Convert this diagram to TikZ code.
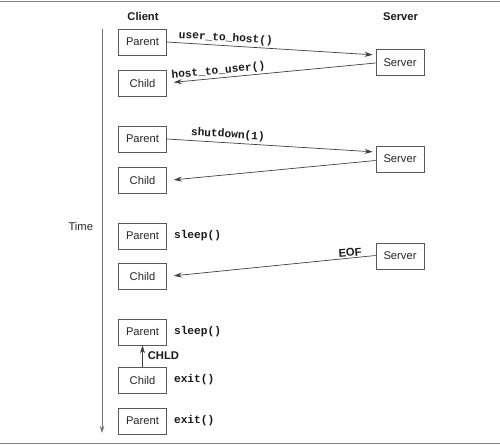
\documentclass[tikz,border=0pt]{standalone}
\usepackage{fontspec}
\setmainfont{Liberation Sans}
\setmonofont{Liberation Mono}
\usetikzlibrary{arrows.meta}
\begin{document}
\begin{tikzpicture}[x=1pt,y=-1pt,
  txt/.style={font=\fontsize{11.2}{13}\selectfont, text=black!85},
  box/.style={txt, draw=black!65, line width=0.7pt, minimum width=48pt, minimum height=26pt, inner sep=0pt},
  code/.style={font=\fontsize{11.2}{13}\selectfont\ttfamily\bfseries, text=black!90, inner sep=1pt},
  hdr/.style={font=\fontsize{11.2}{13}\selectfont\bfseries, text=black!90, inner sep=1pt},
  msg/.style={draw=black!75, line width=0.7pt, -{Stealth[length=8pt,width=5pt]}},
  axis/.style={draw=black!55, line width=0.8pt, -{Stealth[length=7pt,width=4.5pt]}},
  frame/.style={draw=black!50, line width=1.6pt}]
\useasboundingbox (0,0) rectangle (500,446);
% frame lines
\coordinate (fl1) at (0,1.5); \coordinate (fr1) at (500,1.5);
\coordinate (fl2) at (0,443.5); \coordinate (fr2) at (500,443.5);
\draw[frame] (fl1) -- (fr1);
\draw[frame] (fl2) -- (fr2);
% headers
\node[hdr] (hc) at (143,17) {Client};
\node[hdr] (hs) at (400.5,17) {Server};
% time axis
\coordinate (t0) at (102,29);
\coordinate (t1) at (102,433);
\draw[axis] (t0) -- (t1);
\node[txt] (time) at (80.8,226) {Time};
% row 1
\node[box] (p1) at (142.5,42) {Parent};
\node[box] (c1) at (142.5,83) {Child};
\node[box] (s1) at (400,62.5) {Server};
\draw[msg, shorten >=3pt] (p1.east) -- ([yshift=7.5pt]s1.west)
  node[code, pos=0.28, sloped, above=1pt] (l1) {user\_to\_host()};
\draw[msg, shorten >=7pt] ([yshift=-0.5pt]s1.west) -- (c1.east)
  node[code, pos=0.75, sloped, above=0.5pt] (l2) {host\_to\_user()};
% row 2
\node[box] (p2) at (142.5,139) {Parent};
\node[box] (c2) at (142.5,180) {Child};
\node[box] (s2) at (400,159) {Server};
\draw[msg, shorten >=3pt] (p2.east) -- ([yshift=7pt]s2.west)
  node[code, pos=0.29, sloped, above=1.5pt] (l3) {shutdown(1)};
\draw[msg, shorten >=7pt] ([yshift=-1.5pt]s2.west) -- ([yshift=-0.5pt]c2.east);
% row 3
\node[box] (p3) at (142.5,236) {Parent};
\node[box] (c3) at (142.5,276) {Child};
\node[box] (s3) at (400,256) {Server};
\node[code, anchor=west] (sl1) at ([xshift=6pt]p3.east) {sleep()};
\draw[msg, shorten >=7pt] ([yshift=0.5pt]s3.west) -- ([yshift=-0.5pt]c3.east)
  node[hdr, pos=0.12, sloped, above=0pt] (eof) {EOF};
% row 4
\node[box] (p4) at (142.5,332) {Parent};
\node[box] (c4) at (142.5,380) {Child};
\node[box] (p5) at (142.5,421) {Parent};
\node[code, anchor=west] (sl2) at ([xshift=6pt]p4.east) {sleep()};
\node[code, anchor=west] (ex1) at ([xshift=6pt]c4.east) {exit()};
\node[code, anchor=west] (ex2) at ([xshift=6pt]p5.east) {exit()};
\draw[msg] (c4.north) -- (p4.south)
  node[hdr, midway, right=4pt] (chld) {CHLD};
\end{tikzpicture}
\end{document}
